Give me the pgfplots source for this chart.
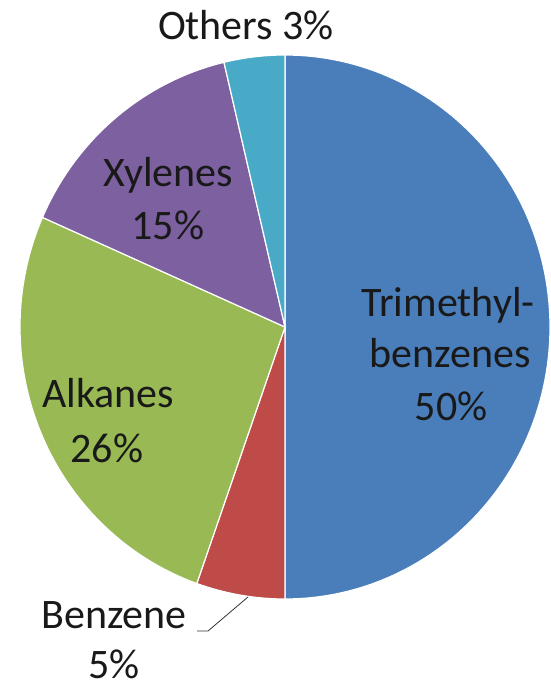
\documentclass[border=0pt]{standalone}
\usepackage{pgfplots}
\pgfplotsset{compat=1.18}
\usepackage{fontspec}
\setmainfont{Carlito}
\definecolor{cBlue}{RGB}{74,126,187}
\definecolor{cRed}{RGB}{190,75,72}
\definecolor{cGreen}{RGB}{152,185,84}
\definecolor{cPurple}{RGB}{125,96,160}
\definecolor{cCyan}{RGB}{72,170,198}
% shares (percent), clockwise from 12 o'clock
\def\vTri{50}
\def\vBen{5.4}
\def\vAlk{26.2}
\def\vXyl{14.7}
\def\vOth{3.7}
\pgfmathsetmacro\aA{\vTri*3.6}
\pgfmathsetmacro\aB{\aA+\vBen*3.6}
\pgfmathsetmacro\aC{\aB+\vAlk*3.6}
\pgfmathsetmacro\aD{\aC+\vXyl*3.6}
\pgfmathsetmacro\aE{\aD+\vOth*3.6}
\def\cx{285}
\def\cy{327}
\def\rx{265}
\def\ry{272}
\newcommand{\lblfont}{\fontsize{21}{26}\selectfont}
\tikzset{lbl/.style={anchor=base, inner sep=0pt, font=\lblfont, text=black!90}}
\begin{document}
\begin{tikzpicture}
\begin{axis}[
  width=275pt, height=344pt, scale only axis,
  xmin=0, xmax=550, ymin=0, ymax=688, y dir=reverse,
  hide axis, clip=false,
]
\path (rel axis cs:0,0) rectangle (rel axis cs:1,1);
\addplot[fill=cBlue, draw=white, line width=0.6pt, domain=0:\aA, samples=120, variable=\t]
  ({\cx+\rx*sin(\t)},{\cy-\ry*cos(\t)}) -- (axis cs:\cx,\cy) -- cycle;
\addplot[fill=cRed, draw=white, line width=0.6pt, domain=\aA:\aB, samples=20, variable=\t]
  ({\cx+\rx*sin(\t)},{\cy-\ry*cos(\t)}) -- (axis cs:\cx,\cy) -- cycle;
\addplot[fill=cGreen, draw=white, line width=0.6pt, domain=\aB:\aC, samples=70, variable=\t]
  ({\cx+\rx*sin(\t)},{\cy-\ry*cos(\t)}) -- (axis cs:\cx,\cy) -- cycle;
\addplot[fill=cPurple, draw=white, line width=0.6pt, domain=\aC:\aD, samples=40, variable=\t]
  ({\cx+\rx*sin(\t)},{\cy-\ry*cos(\t)}) -- (axis cs:\cx,\cy) -- cycle;
\addplot[fill=cCyan, draw=white, line width=0.6pt, domain=\aD:\aE, samples=15, variable=\t]
  ({\cx+\rx*sin(\t)},{\cy-\ry*cos(\t)}) -- (axis cs:\cx,\cy) -- cycle;
% labels
\node[lbl] at (axis cs:246,40) {Others 3\%};
\node[lbl] at (axis cs:168,187) {Xylenes};
\node[lbl] at (axis cs:168,240) {15\%};
\node[lbl] at (axis cs:108,407) {Alkanes};
\node[lbl] at (axis cs:107,462) {26\%};
\node[lbl] at (axis cs:448,317) {Trimethyl-};
\node[lbl] at (axis cs:450,367) {benzenes};
\node[lbl] at (axis cs:451,420) {50\%};
\node[lbl] at (axis cs:114,628) {Benzene};
\node[lbl] at (axis cs:114,678) {5\%};
\draw[black!80, line width=0.4pt] (axis cs:197,631) -- (axis cs:208,631) -- (axis cs:248,597);
\end{axis}
\end{tikzpicture}
\end{document}
